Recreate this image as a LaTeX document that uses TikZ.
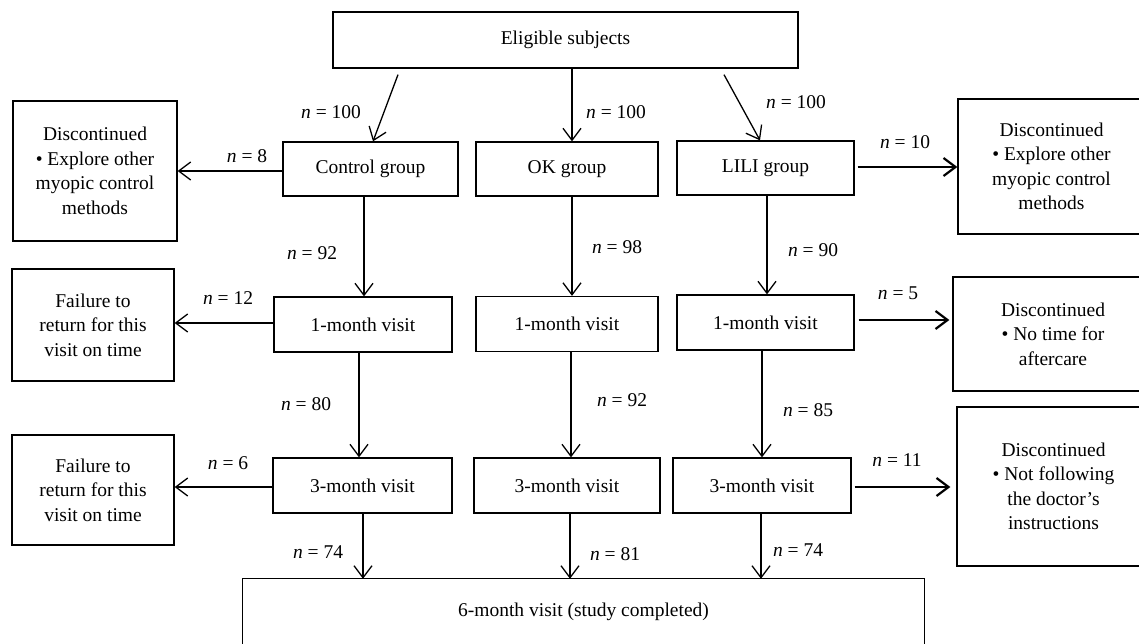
\documentclass[tikz,border=0pt]{standalone}
\usepackage{fontspec}
\setmainfont{Liberation Serif}
\usetikzlibrary{arrows.meta}
\begin{document}
\begin{tikzpicture}[x=1pt,y=-1pt,
  box/.style={draw, line width=1.3pt, align=center, inner sep=0pt,
    font=\fontsize{19.5}{24.5}\selectfont},
  lbl/.style={inner sep=0pt, font=\fontsize{19.5}{24.5}\selectfont},
  arr/.style={line width=1.3pt, -{Straight Barb[length=12pt,width=18pt,line width=1.3pt]}},
  tarr/.style={line width=2.8pt, -{Straight Barb[length=12pt,width=18pt,line width=2.2pt]}}]
\useasboundingbox (0,0) rectangle (1139,643);
\clip (0,0) rectangle (1139,643);
% top
\node[box, minimum width=465, minimum height=56] (elig) at (565.5,40) {Eligible subjects};
% groups
\node[box, minimum width=175, minimum height=54] (ctrl) at (370.5,169) {Control group};
\node[box, minimum width=182, minimum height=54] (ok) at (567,169) {OK group};
\node[box, minimum width=177, minimum height=54] (lili) at (765.5,168) {LILI group};
\node[box, minimum width=164, minimum height=140] (d1l) at (95,171) {Discontinued\\\textbullet\ Explore other\\myopic control\\methods};
\node[box, minimum width=187, minimum height=135] (d1r) at (1051.5,166.5) {Discontinued\\\textbullet\ Explore other\\myopic control\\methods};
% 1-month
\node[box, minimum width=178, minimum height=55] (m1c) at (363,324.5) {1-month visit};
\node[box, minimum width=182, minimum height=55] (m1o) at (567,324) {1-month visit};
\node[box, minimum width=177, minimum height=55] (m1l) at (765.5,322.5) {1-month visit};
\node[box, minimum width=162, minimum height=112] (f1) at (93,325) {Failure to\\return for this\\visit on time};
\node[box, minimum width=200, minimum height=114] (d2r) at (1053,334) {Discontinued\\\textbullet\ No time for\\aftercare};
% 3-month
\node[box, minimum width=179, minimum height=55] (m3c) at (362.5,485.5) {3-month visit};
\node[box, minimum width=186, minimum height=55] (m3o) at (567,485.5) {3-month visit};
\node[box, minimum width=178, minimum height=55] (m3l) at (762,485.5) {3-month visit};
\node[box, minimum width=162, minimum height=110] (f2) at (93,490) {Failure to\\return for this\\visit on time};
\node[box, minimum width=193, minimum height=159] (d3r) at (1053.5,486.5) {Discontinued\\\textbullet\ Not following\\the doctor's\\instructions};
% 6-month
\node[lbl, minimum width=681, minimum height=66] (six) at (583.5,612) {6-month visit (study completed)};
\draw[line width=1.3pt] ([yshift=-20pt]six.south west) -- (six.north west) -- (six.north east) -- ([yshift=-20pt]six.south east);
% arrows from eligible
\draw[arr] ([xshift=-167.5pt,yshift=-6pt]elig.south) -- ([xshift=2.5pt]ctrl.north);
\draw[arr] (ok.north |- elig.south) ++(5,0) coordinate (okt) (okt) -- (okt |- ok.north);
\draw[arr] ([xshift=158.5pt,yshift=-6pt]elig.south) -- ([xshift=-5.5pt]lili.north);
% left branches
\draw[arr] (ctrl.west |- 0,171) -- (d1l.east |- 0,171);
\draw[arr] (m1c.west |- 0,323) -- (f1.east |- 0,323);
\draw[arr] (m3c.west |- 0,487) -- (f2.east |- 0,487);
% right branches
\draw[tarr] ([xshift=3pt]lili.east |- 0,167) -- (d1r.west |- 0,167);
\draw[tarr] ([xshift=4pt]m1l.east |- 0,320) -- ([xshift=-3pt]d2r.west |- 0,320);
\draw[tarr] ([xshift=3pt]m3l.east |- 0,487) -- ([xshift=-6pt]d3r.west |- 0,487);
% verticals
\draw[arr] (ctrl.south -| 364,0) -- (m1c.north -| 364,0);
\draw[arr] (ok.south -| 572,0) -- (m1o.north -| 572,0);
\draw[arr] (lili.south -| 767,0) -- (m1l.north -| 767,0);
\draw[arr] (m1c.south -| 359,0) -- (m3c.north -| 359,0);
\draw[arr] (m1o.south -| 571,0) -- (m3o.north -| 571,0);
\draw[arr] (m1l.south -| 762,0) -- (m3l.north -| 762,0);
\draw[arr] (m3c.south -| 363,0) -- (six.north -| 363,0);
\draw[arr] (m3o.south -| 570,0) -- (six.north -| 570,0);
\draw[arr] (m3l.south -| 761,0) -- (six.north -| 761,0);
% labels
\node[lbl] (l1) at (331,112) {\textit{n} = 100};
\node[lbl] (l2) at (616,112) {\textit{n} = 100};
\node[lbl] (l3) at (796,102) {\textit{n} = 100};
\node[lbl] (l4) at (247,156) {\textit{n} = 8};
\node[lbl] (l5) at (905,142) {\textit{n} = 10};
\node[lbl] (l6) at (312,253) {\textit{n} = 92};
\node[lbl] (l7) at (617,247) {\textit{n} = 98};
\node[lbl] (l8) at (813,250) {\textit{n} = 90};
\node[lbl] (l9) at (228,298) {\textit{n} = 12};
\node[lbl] (l10) at (898,293) {\textit{n} = 5};
\node[lbl] (l11) at (306,404) {\textit{n} = 80};
\node[lbl] (l12) at (622,400) {\textit{n} = 92};
\node[lbl] (l13) at (808,410) {\textit{n} = 85};
\node[lbl] (l14) at (228,463) {\textit{n} = 6};
\node[lbl] (l15) at (897,460) {\textit{n} = 11};
\node[lbl] (l16) at (318,552) {\textit{n} = 74};
\node[lbl] (l17) at (615,554) {\textit{n} = 81};
\node[lbl] (l18) at (798,550) {\textit{n} = 74};
\end{tikzpicture}
\end{document}
